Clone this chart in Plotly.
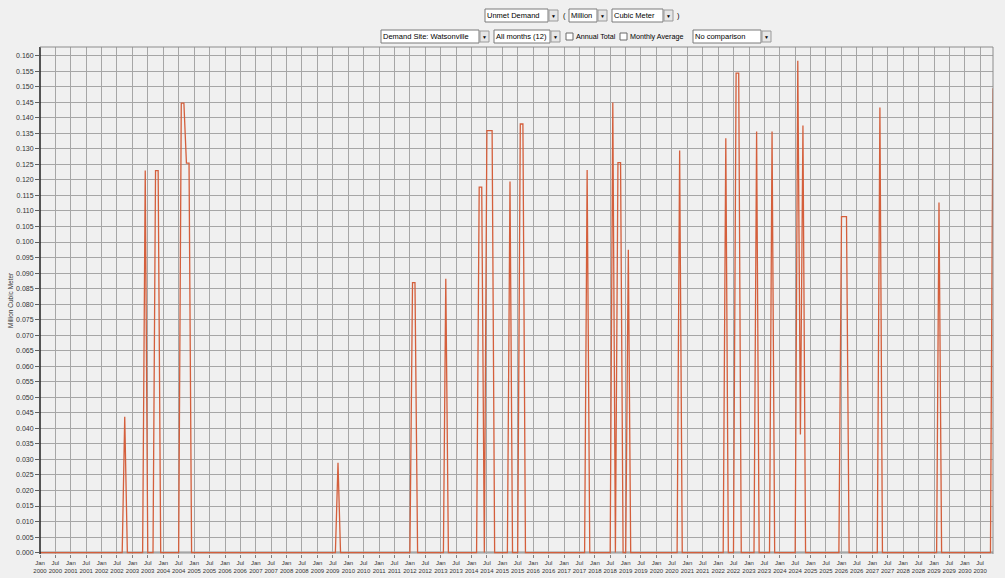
import pandas as pd
import plotly.graph_objects as go

# Monthly unmet demand at Watsonville (Million Cubic Meter); months not listed are zero
unmet_months = [
    "2002-10", "2003-06", "2003-10", "2003-11", "2004-08", "2004-09", "2004-10", "2004-11",
    "2009-09", "2012-02", "2012-03", "2013-03", "2014-04", "2014-05", "2014-07", "2014-08",
    "2014-09", "2015-04", "2015-08", "2015-09", "2017-10", "2018-08", "2018-10", "2018-11",
    "2019-02", "2020-10", "2022-04", "2022-08", "2022-09", "2023-04", "2023-10", "2024-08",
    "2024-09", "2024-10", "2026-01", "2026-02", "2026-03", "2027-04", "2029-03", "2030-12",
]
unmet_values = [
    0.0437, 0.1230, 0.1230, 0.1230, 0.1447, 0.1447, 0.1254, 0.1254,
    0.0289, 0.0869, 0.0869, 0.0882, 0.1177, 0.1177, 0.1359, 0.1359,
    0.1359, 0.1195, 0.1380, 0.1380, 0.1232, 0.1449, 0.1256, 0.1256,
    0.0975, 0.1295, 0.1334, 0.1544, 0.1544, 0.1356, 0.1356, 0.1584,
    0.0380, 0.1375, 0.1082, 0.1082, 0.1082, 0.1433, 0.1127, 0.1495,
]
first_month = "2000-01"
last_month = "2030-12"
y_ticks = [i * 0.005 for i in range(33)]

months = pd.date_range(first_month, last_month, freq="MS")
series = pd.Series(0.0, index=months)
for m, v in zip(unmet_months, unmet_values):
    series[pd.Timestamp(m)] = v

tick_dates = pd.date_range(first_month, last_month, freq="6MS")
tick_text = [d.strftime("%b") + "<br>" + d.strftime("%Y") for d in tick_dates]

W, H = 1005, 578
L, R, T, B = 40, 993, 47, 554
BG = "#f0f0f0"
FONT = "Liberation Sans"


def fx(px):
    return (px - L) / (R - L)


def fy(py):
    return (B - py) / (B - T)


fig = go.Figure()
fig.add_trace(go.Scatter(
    x=series.index, y=series.values, mode="lines",
    line=dict(color="#d45f3c", width=1.3), hoverinfo="x+y", showlegend=False,
))

shapes = [
    # dark baseline under the series
    dict(type="line", xref="paper", yref="y", x0=0, x1=1, y0=0, y1=0,
         line=dict(color="#3a3a3a", width=1.5), layer="below"),
    # left axis line
    dict(type="line", xref="paper", yref="paper", x0=0, x1=0, y0=0, y1=1,
         line=dict(color="#202020", width=1.5), layer="above"),
    # top and right frame
    dict(type="line", xref="paper", yref="paper", x0=0, x1=1, y0=1, y1=1,
         line=dict(color="#8c8c8c", width=1), layer="above"),
    dict(type="line", xref="paper", yref="paper", x0=1, x1=1, y0=0, y1=1,
         line=dict(color="#8c8c8c", width=1), layer="above"),
]
annotations = []


def box(x0, x1, y0, y1, fill="white", border="#7a7a7a"):
    shapes.append(dict(type="rect", xref="paper", yref="paper",
                       x0=fx(x0), x1=fx(x1), y0=fy(y1), y1=fy(y0),
                       fillcolor=fill, line=dict(color=border, width=1), layer="above"))


def label(px, py, text, size=7.5, anchor="left", color="#000000"):
    annotations.append(dict(xref="paper", yref="paper", x=fx(px), y=fy(py), text=text,
                            showarrow=False, xanchor=anchor, yanchor="middle",
                            borderpad=0,
                            font=dict(family=FONT, size=size, color=color)))


def combo(x0, x1, y0, y1, text):
    box(x0, x1, y0, y1)
    label(x0 + 1, (y0 + y1) / 2, text)
    box(x1 + 1, x1 + 10, y0 + 1, y1 - 1, fill="#e6e6e6", border="#9a9a9a")
    label(x1 + 5.5, (y0 + y1) / 2 + 0.5, "▼", size=5, anchor="center")


def checkbox(x0, y0, text):
    box(x0, x0 + 7, y0, y0 + 7, fill="white", border="#6a6a6a")
    label(x0 + 9, y0 + 3.5, text, size=7.2)


# row 1: variable and unit selectors
combo(485, 548, 9, 22, "Unmet Demand")
label(562, 15.5, "(")
combo(569, 597, 9, 22, "Million")
combo(612, 663, 9, 22, "Cubic Meter")
label(676, 15.5, ")")
# row 2: site, months and comparison selectors
combo(381, 479, 30, 43, "Demand Site: Watsonville")
combo(494, 550, 30, 43, "All months (12)")
checkbox(566, 33, "Annual Total")
checkbox(620, 33, "Monthly Average")
combo(693, 761, 30, 43, "No comparison")

# y-axis title
annotations.append(dict(xref="paper", yref="paper", x=fx(10), y=fy(300),
                        text="Million Cubic Meter", showarrow=False, textangle=-90,
                        xanchor="center", yanchor="middle",
                        font=dict(family=FONT, size=6.5, color="#333333")))

fig.update_layout(
    width=W, height=H,
    margin=dict(l=L, r=W - R, t=T, b=H - B, pad=0, autoexpand=False),
    paper_bgcolor=BG, plot_bgcolor=BG,
    font=dict(family=FONT, color="#333333"),
    shapes=shapes, annotations=annotations,
    showlegend=False,
)
fig.update_xaxes(
    range=[months[0], months[-1]],
    tickmode="array", tickvals=tick_dates, ticktext=tick_text,
    tickangle=0, automargin=False,
    showgrid=True, gridcolor="#a6a6a6", gridwidth=1,
    ticks="outside", ticklen=3, tickcolor="#808080",
    tickfont=dict(family=FONT, size=6, color="#333333"),
    showline=False, zeroline=False, fixedrange=True,
)
fig.update_yaxes(
    range=[-0.00045, 0.1628], automargin=False,
    tickmode="array", tickvals=y_ticks, ticktext=[f"{v:.3f}" for v in y_ticks],
    showgrid=True, gridcolor="#a6a6a6", gridwidth=1,
    ticks="outside", ticklen=4, tickcolor="#606060",
    tickfont=dict(family=FONT, size=7, color="#333333"),
    showline=False, zeroline=False, fixedrange=True,
)

fig.write_html("out.html")
